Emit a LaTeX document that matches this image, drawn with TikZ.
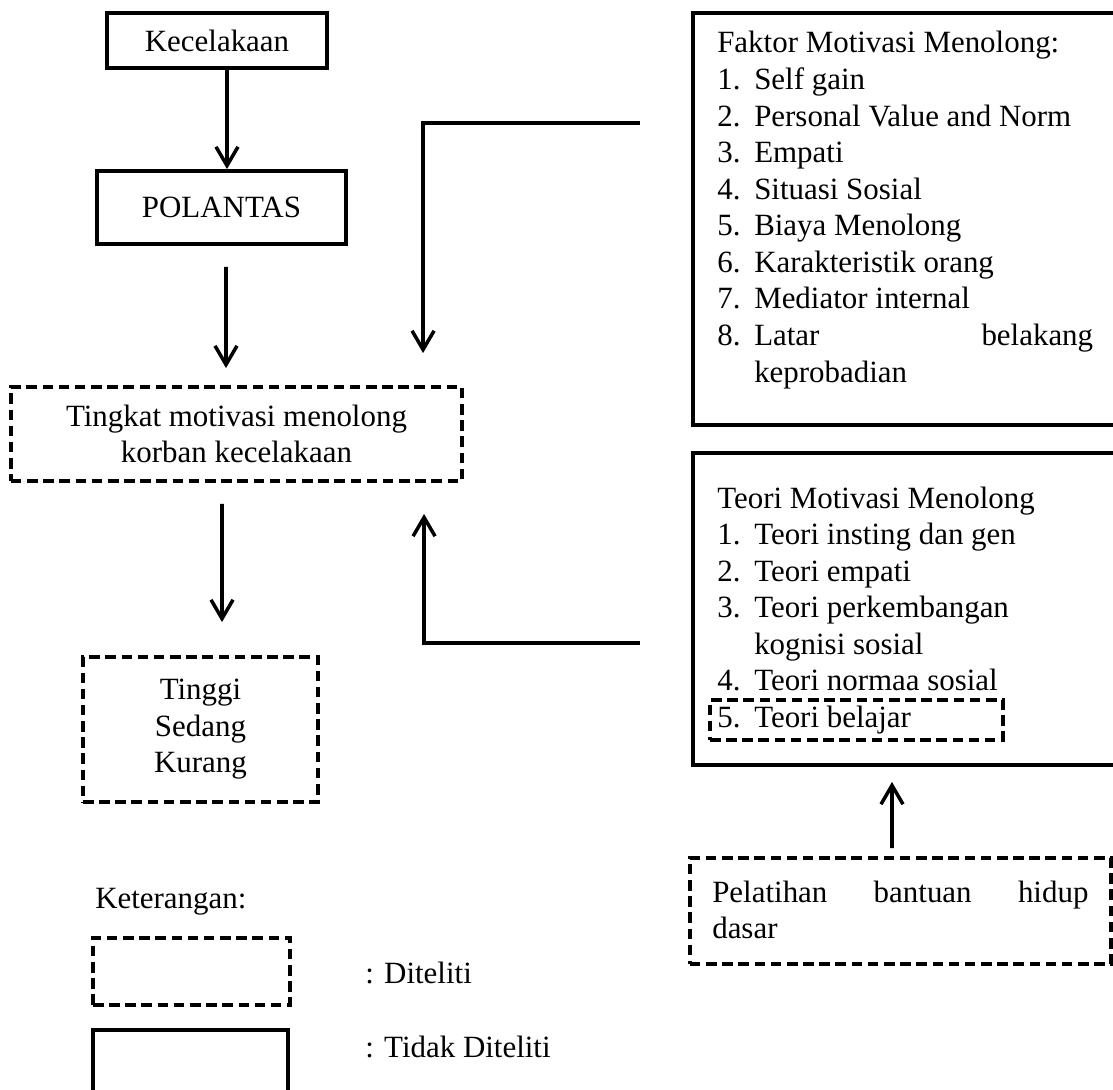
\documentclass[tikz,border=0pt]{standalone}
\usepackage{fontspec}
\setmainfont{Liberation Serif}
\usetikzlibrary{arrows.meta}
\tikzset{
	solidbox/.style={draw, line width=2.7pt, inner sep=0pt},
	dashbox/.style={draw, line width=2.7pt, dash pattern=on 7.5pt off 4pt, inner sep=0pt},
	arr/.style={line width=2.5pt, -{Straight Barb[length=4.7mm,width=5.5mm]}},
	txt/.style={inner sep=0pt, font=\fontsize{22}{26}\selectfont},
}
\newcommand{\nr}[1]{\makebox[26.3pt][l]{#1}}

\begin{document}
\begin{tikzpicture}[x=0.025cm, y=-0.025cm]
			%%%%% START %%%%%
			\clip (0,0) rectangle (1113,1090);
			
			\node[solidbox, txt, minimum width=5.5cm, minimum height=1.375cm] (kec) at (217,40.5) {Kecelakaan};
			\node[solidbox, txt, minimum width=6.225cm, minimum height=1.825cm] (pol) at (221.5,207.5) {POLANTAS};
			\node[dashbox, txt, align=center, minimum width=11.275cm, minimum height=2.35cm] (tingkat) at (236.5,434) {Tingkat motivasi menolong\\korban kecelakaan};
			\node[dashbox, txt, align=center, minimum width=5.875cm, minimum height=3.625cm] (hasil) at (200.5,729.5) {Tinggi\\Sedang\\Kurang};
			
			\draw[arr] ([xshift=0.25cm]kec.south) -- ([xshift=0.1375cm]pol.north);
			\draw[arr, shorten <=0.525cm, shorten >=0.425cm] ([xshift=0.1125cm]pol.south) -- ([xshift=-0.2625cm]tingkat.north);
			\draw[arr, shorten <=0.525cm, shorten >=0.825cm] ([xshift=-0.3625cm]tingkat.south) -- ([xshift=0.5375cm]hasil.north);
			
			% faktor
			\node[solidbox, minimum width=10.8cm, minimum height=10.3cm] (faktor) at (909,219) {};
			\node[txt, anchor=base west] (faktorlist) at (717,53) {\begin{tabular}[t]{@{}l@{}}
				Faktor Motivasi Menolong:\\
				\nr{1.}Self gain\\
				\nr{2.}Personal Value and Norm\\
				\nr{3.}Empati\\
				\nr{4.}Situasi Sosial\\
				\nr{5.}Biaya Menolong\\
				\nr{6.}Karakteristik orang\\
				\nr{7.}Mediator internal\\
				\nr{8.}\hbox to 241pt{Latar\hfill belakang}\\
				\nr{}keprobadian
			\end{tabular}};
			
			% teori
			\node[solidbox, minimum width=10.8cm, minimum height=7.8cm] (teori) at (909,609) {};
			\node[txt, anchor=base west] (teorilist) at (717,508) {\begin{tabular}[t]{@{}l@{}}
				Teori Motivasi Menolong\\
				\nr{1.}Teori insting dan gen\\
				\nr{2.}Teori empati\\
				\nr{3.}Teori perkembangan\\
				\nr{}kognisi sosial\\
				\nr{4.}Teori normaa sosial\\
				\nr{5.}Teori belajar
			\end{tabular}};
			\node[dashbox, minimum width=7.325cm, minimum height=1cm] (belajar) at (856.5,720) {};
			
			\node[dashbox, minimum width=10.525cm, minimum height=2.65cm] (latih) at (900.5,911) {};
			\node[txt, anchor=base west] (latihtext) at (712,902) {\begin{tabular}[t]{@{}l@{}}
				\hbox to 267.5pt{Pelatihan\hfill bantuan\hfill hidup}\\
				dasar
			\end{tabular}};
			\draw[arr, shorten <=0.2cm, shorten >=0.375cm] ([xshift=-0.2125cm]latih.north) -- ([xshift=-0.425cm]teori.south);
			
			\coordinate (fk) at (640,123);
			\coordinate (tk) at (640,643);
			\draw[arr, shorten >=0.8cm] (fk) -| ([xshift=4.6625cm]tingkat.north);
			\draw[arr, shorten >=0.775cm] (tk) -| ([xshift=4.6875cm]tingkat.south);
			
			% keterangan
			\node[txt, anchor=base west] (ket) at (95,908) {Keterangan:};
			\node[dashbox, minimum width=4.925cm, minimum height=1.675cm] (legdash) at (191.5,971.5) {};
			\node[solidbox, minimum width=4.875cm, minimum height=1.75cm] (legsolid) at (190.5,1065) {};
			\node[txt, anchor=base west] (legdashtext) at (365,983) {: Diteliti};
			\node[txt, anchor=base west] (legsolidtext) at (365,1057) {: Tidak Diteliti};
			
			%%%%% END %%%%%
\end{tikzpicture}
\end{document}
